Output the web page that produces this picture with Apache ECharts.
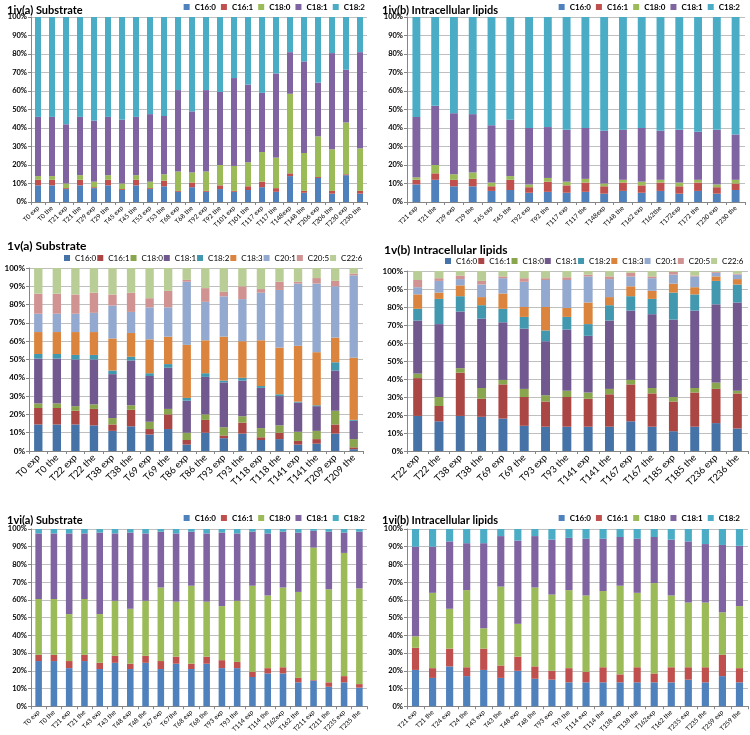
<!DOCTYPE html>
<html><head><meta charset="utf-8">
<script src="https://cdn.jsdelivr.net/npm/echarts@6/dist/echarts.min.js"></script>
<style>
html,body{margin:0;padding:0;background:#fff;width:750px;height:735px;overflow:hidden;}
.p{position:absolute;}
</style></head><body>
<div id="p1" class="p" style="left:0;top:0;width:375px;height:245px"></div>
<div id="p2" class="p" style="left:375px;top:0;width:375px;height:245px"></div>
<div id="p3" class="p" style="left:0;top:230px;width:375px;height:275px"></div>
<div id="p4" class="p" style="left:375px;top:230px;width:375px;height:275px"></div>
<div id="p5" class="p" style="left:0;top:505px;width:375px;height:230px"></div>
<div id="p6" class="p" style="left:375px;top:505px;width:375px;height:230px"></div>
<script>
// ---------- DATA ----------
const names5 = ['C16:0','C16:1','C18:0','C18:1','C18:2'];
const names9 = ['C16:0','C16:1','C18:0','C18:1','C18:2','C18:3','C20:1','C20:5','C22:6'];
const yTicks = [0,10,20,30,40,50,60,70,80,90,100];

// 1iv(a) Substrate
const cat1 = ['T0 exp','T0 the','T21 exp','T21 the','T29 exp','T29 the','T45 exp','T45 the','T53 exp','T53 the','T68 exp','T68 the','T92 exp','T92 the','T101 exp','T101 the','T117 exp','T117 the','T148exp','T148 the','T206 exp','T206 the','T230 exp','T230 the'];
const p1_C16_0 = [9,9,7,9,7.5,9,6.5,9,7,8.5,5.5,8,5.5,7,5.5,6.5,8,5.5,14,5,13,4.5,14.5,4.5];
const p1_C16_1 = [3,3,0.5,3,0.5,3,0.5,3,0.5,3,0.5,2.5,0.5,2,0.5,2,3,2,1.5,1,0.5,1.5,0.5,1.5];
const p1_C18_0 = [2,2,2.5,2.5,3,2.5,3,2.5,3.5,3.5,10.5,5.5,10.5,11,13.5,13,16,16.5,43,20.5,22,22.5,28,23];
const p1_C18_1 = [32,32,32,31.5,33,31.5,34.5,31.5,36.5,31.5,44,33,44,39.5,47.5,42,32,45.5,22.5,49.5,29,52,28.5,52];
const p1_C18_2 = [54,54,58,54,56,54,55.5,54,52.5,53.5,39.5,51,39.5,40.5,33,36.5,41,30.5,19,24,35.5,19.5,28.5,19];

// 1iv(b) Intracellular lipids
const cat2 = ['T21 exp','T21 the','T29 exp','T29 the','T45 exp','T45 the','T92 exp','T92 the','T117 exp','T117 the','T148exp','T148 the','T162 exp','T162the','T172exp','T172 the','T230 exp','T230 the'];
const p2_C16_0 = [9.5,12,8.5,8.5,6,6.5,5,5.5,5,5.5,4.5,6,5,6,4.5,6,4.5,6.5];
const p2_C16_1 = [2.5,3.5,3.5,4,2.5,5.5,3,5.5,4,5,4,4.5,4,4.5,4,4.5,3.5,3.5];
const p2_C18_0 = [1.3,4.5,3,3.5,2,2,1.5,2,2,2,1.5,1.5,2,1.5,2,1.5,1.5,2];
const p2_C18_1 = [32.7,32,33,31.5,31,30.5,30.5,27.5,28,27.5,28.5,27,29,26.5,28.5,26,29.5,24.5];
const p2_C18_2 = [54,48,52,52.5,58.5,55.5,60,59.5,61,60,61.5,61,60,61.5,61,62,61,63.5];

// 1v(a) Substrate
const cat3 = ['T0 exp','T0 the','T22 exp','T22 the','T38 exp','T38 the','T69 exp','T69 the','T86 exp','T86 the','T93 exp','T93 the','T118 exp','T118 the','T141 exp','T141 the','T209 exp','T209 the'];
const p3_C16_0 = [14.5,14.5,14.5,14,11,13.5,9,12,3.5,10,7,9.5,6,6.5,3.5,4,9.5,1];
const p3_C16_1 = [9,9,7.5,9,3.5,9,3,8,2.5,7,1.5,6,1.5,3.5,2,2.5,5,1];
const p3_C18_0 = [2.5,2.5,2.5,2.5,3.5,2.5,4,3,4,3,4.5,3.5,5,4,5,4.5,7.5,4.5];
const p3_C18_1 = [24.5,24.5,25.5,24.5,24,24.5,25,22.5,17.5,20.5,24.5,19.5,22,16,16,13.5,22,10];
const p3_C18_2 = [2.5,2.5,2.5,2.5,2,2,1.5,2,1.5,2,1,1.5,1,1,0.5,0.5,4.5,0.5];
const p3_C18_3 = [12,12,12.5,12.5,17.5,13,18.5,15,29,18,24,20,25,25.5,30.5,29,13.5,34];
const p3_C20_1 = [10,10,10,10.5,18,11.5,17.5,16,34.5,21,22,23,26,31.5,34,37.5,28,45];
const p3_C20_5 = [11,11,10.5,11,6,10.5,5,9,1,7.5,2.5,7,2,4.5,1,3,3,1];
const p3_C22_6 = [14,14,14.5,13.5,14.5,13.5,16.5,12.5,6.5,11,13,10,11.5,7.5,7.5,5.5,7,3];

// 1v(b) Intracellular lipids
const cat4 = ['T22 exp','T22 the','T38 exp','T38 the','T69 exp','T69 the','T93 exp','T93 the','T141 exp','T141 the','T167 exp','T167 the','T185 exp','T185 the','T236 exp','T236 the'];
const p4_C16_0 = [19.5,16.5,19.5,19,18,14,13.5,13.5,13.5,13.5,16.5,13.5,11,13.5,15.5,12.5];
const p4_C16_1 = [21,8.5,24,10,19,16,14,16.5,15.5,18,20.5,18.5,16.5,19,19,19.5];
const p4_C18_0 = [2.5,5,2.5,6,2.5,4.5,3.5,3.5,3.5,3,2.5,3,2.5,2.5,3.5,1.5];
const p4_C18_1 = [29.5,40.5,31.5,38.5,32,33.5,30,34,31.5,38,38.5,41,43,43,43.5,49];
const p4_C18_2 = [6.5,14,8.5,7.5,7.5,6.5,6,7,6.5,8.5,8,8.5,15,9,13,10];
const p4_C18_3 = [8,3.5,6,4.5,8.5,5.5,13,5,12,4.5,5.5,4.5,5,4,2.5,3];
const p4_C20_1 = [4,6.5,3.5,7,8.5,14,15,15.5,14.5,10,5.5,7,5,6,2,2.5];
const p4_C20_5 = [4,1.5,2,2,1,2,1,1.5,1,1.5,2,1,1.5,0.5,0.5,0.5];
const p4_C22_6 = [5,4,2.5,5.5,3,4,4,3.5,2,3,1,3,0.5,2.5,0.5,1.5];

// 1vi(a) Substrate
const cat5 = ['T0 exp','T0 the','T21 exp','T21 the','T43 exp','T43 the','T48 exp','T48 the','T67 exp','T67the','T68 exp','T68 the','T93 exp','T93 the','T114 exp','T114 the','T162exp','T162 the','T211 exp','T211 the','T235 exp','T235 the'];
const p5_C16_0 = [25.5,25.5,21.5,25.5,21,24.5,21,24.5,21,24,21,24,21.5,21.5,16.5,18.5,18.5,13.5,14.5,11,13.5,10.5];
const p5_C16_1 = [3.5,3.5,4,3.5,3.5,4,3,4,4.5,4,3,4,4.5,3.5,3,3,3.5,2.5,0.3,2.5,3.5,2];
const p5_C18_0 = [31.5,31.5,26.5,31.5,27.5,31,31,31,41.5,31,44,31,30.5,34.5,48.5,41,45,48.5,74.7,52.5,69.5,54];
const p5_C18_1 = [37,37,45.5,37,46,38,43,38,31.5,38.5,30.5,38.5,41.5,38,30.5,35,31.5,33.5,9.5,32.5,11.5,32];
const p5_C18_2 = [2.5,2.5,2.5,2.5,2,2.5,2,2.5,1.5,2.5,1.5,2.5,2,2.5,1.5,2.5,1.5,2,1,1.5,2,1.5];

// 1vi(b) Intracellular lipids
const cat6 = ['T21 exp','T21 the','T24 exp','T24 the','T43 exp','T43 the','T48 exp','T48 the','T93 exp','T93 the','T114 exp','T114 the','T138 exp','T138 the','T162exp','T162 the','T235 exp','T235 the','T259 exp','T259 the'];
const p6_C16_0 = [20.5,16,22.5,17,20.5,16,20,15.5,15,13.5,13.5,13.5,13.5,13.5,13.5,13.5,15,13.5,17,13.5];
const p6_C16_1 = [12.5,5.5,10,5,12,7,8,7,5,8,6,8.5,4.5,8.5,5,8.5,7,8.5,12,8];
const p6_C18_0 = [6.5,42.5,22.5,43.5,11.5,44.5,18.5,44.5,43,44,43,43,50,42,51,40.5,36.5,36.5,24,35];
const p6_C18_1 = [50.5,26,38,26.5,48,28.5,47,29,31,29.5,32,29.5,27.5,30.5,26,31.5,34.5,33,38,34];
const p6_C18_2 = [10,10,7,8,8,4,6.5,4,6,5,5.5,5.5,4.5,5.5,4.5,6,7,8.5,9,9.5];

// ---------- STYLE ----------
const colA = ['#4F81BD','#C0504D','#9BBB59','#8064A2','#4BACC6'];
const colB = ['#4572A7','#AA4643','#89A54E','#71588F','#4198AF','#DB843D','#93A9CF','#D19392','#B9CD96'];
const FONT = 'Lato, "Open Sans", sans-serif';

function panel(id, cfg){
  const ch = echarts.init(document.getElementById(id), null, {renderer:'canvas'});
  const series = cfg.data.map((d,i)=>({
    name: cfg.names[i], type:'bar', stack:'s', data:d,
    barWidth: cfg.barWidth, itemStyle:{color: cfg.colors[i]},
    emphasis:{disabled:true}
  }));
  ch.setOption({
    animation:false,
    textStyle:{fontFamily:FONT},
    title:{text:cfg.title, left:cfg.titleLeft, top:cfg.titleTop,
      textStyle:{fontFamily:FONT, fontSize:cfg.titleSize, fontWeight:'bold', color:'#000'}},
    legend:Object.assign({data:cfg.names, itemWidth:6, itemHeight:6, itemGap:cfg.legendGap,
      width:360, padding:0,
      icon:'rect', textStyle:{fontFamily:FONT, fontSize:cfg.legendSize, fontWeight:cfg.legendWeight, color:'#000'}}, cfg.legendPos),
    grid:cfg.grid,
    xAxis:{type:'category', data:cfg.cats, boundaryGap:true,
      axisLine:{lineStyle:{color:'#868686'}},
      axisTick:{show:true, length:3, lineStyle:{color:'#868686'}},
      axisLabel:{interval:0, rotate:45, fontSize:cfg.xSize, color:'#000', fontFamily:FONT, margin:5}},
    yAxis:{type:'value', min:0, max:100, interval:10,
      axisLine:{show:true, lineStyle:{color:'#868686'}},
      axisTick:{show:true, length:3, lineStyle:{color:'#868686'}},
      splitLine:{lineStyle:{color:'#bfbfbf'}},
      axisLabel:{formatter:'{value}%', fontSize:cfg.ySize, fontWeight:'bold', color:'#000', fontFamily:FONT, margin:4}},
    series:series
  });
}

panel('p1',{title:'1iv(a) Substrate', titleLeft:2, titleTop:0, titleSize:11,
  names:names5, colors:colA, cats:cat1,
  data:[p1_C16_0,p1_C16_1,p1_C18_0,p1_C18_1,p1_C18_2],
  grid:{left:31,right:8,top:17,bottom:43}, barWidth:'43%',
  legendPos:{right:10, top:3}, legendGap:5, legendSize:8, legendWeight:'bold', xSize:6.5, ySize:7.5});
panel('p2',{title:'1iv(b) Intracellular lipids', titleLeft:2, titleTop:0, titleSize:11,
  names:names5, colors:colA, cats:cat2,
  data:[p2_C16_0,p2_C16_1,p2_C18_0,p2_C18_1,p2_C18_2],
  grid:{left:32,right:5,top:17,bottom:43}, barWidth:'42%',
  legendPos:{right:10, top:3}, legendGap:5, legendSize:8, legendWeight:'bold', xSize:6.5, ySize:7.5});
panel('p3',{title:'1v(a) Substrate', titleLeft:2, titleTop:5, titleSize:12,
  names:names9, colors:colB, cats:cat3,
  data:[p3_C16_0,p3_C16_1,p3_C18_0,p3_C18_1,p3_C18_2,p3_C18_3,p3_C20_1,p3_C20_5,p3_C22_6],
  grid:{left:29,right:12,top:38,bottom:54}, barWidth:'45%',
  legendPos:{left:64, top:24}, legendGap:1, legendSize:8, legendWeight:'normal', xSize:9.5, ySize:8});
panel('p4',{title:'1v(b) Intracellular lipids', titleLeft:4, titleTop:9, titleSize:12,
  names:names9, colors:colB, cats:cat4,
  data:[p4_C16_0,p4_C16_1,p4_C18_0,p4_C18_1,p4_C18_2,p4_C18_3,p4_C20_1,p4_C20_5,p4_C22_6],
  grid:{left:32,right:2,top:41,bottom:54}, barWidth:'42%',
  legendPos:{left:70, top:27}, legendGap:1, legendSize:8, legendWeight:'normal', xSize:9.5, ySize:8});
panel('p5',{title:'1vi(a) Substrate', titleLeft:2, titleTop:5, titleSize:11,
  names:names5, colors:colA, cats:cat5,
  data:[p5_C16_0,p5_C16_1,p5_C18_0,p5_C18_1,p5_C18_2],
  grid:{left:31,right:8,top:24,bottom:28}, barWidth:'43%',
  legendPos:{right:10, top:9}, legendGap:5, legendSize:8, legendWeight:'bold', xSize:6.5, ySize:7.5});
panel('p6',{title:'1vi(b) Intracellular lipids', titleLeft:2, titleTop:5, titleSize:11,
  names:names5, colors:colA, cats:cat6,
  data:[p6_C16_0,p6_C16_1,p6_C18_0,p6_C18_1,p6_C18_2],
  grid:{left:32,right:2,top:24,bottom:28}, barWidth:'42%',
  legendPos:{right:10, top:9}, legendGap:5, legendSize:8, legendWeight:'bold', xSize:6.5, ySize:7.5});
</script>
</body></html>
